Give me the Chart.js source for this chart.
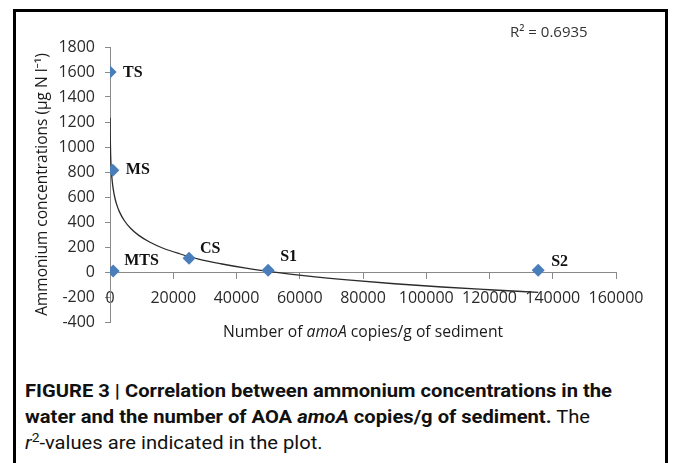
<!DOCTYPE html>
<html>
<head>
<meta charset="utf-8">
<script src="https://cdn.jsdelivr.net/npm/chart.js@4.4.1/dist/chart.umd.min.js"></script>
<style>
  html, body { margin: 0; padding: 0; background: #fff; }
  body { width: 675px; height: 463px; position: relative; overflow: hidden; }
  #frame { position: absolute; left: 13px; top: 9px; width: 649px; height: 500px; border: 3px solid #000; box-sizing: content-box; }
  #wrap { position: absolute; left: 0; top: 0; width: 675px; height: 350px; }
  #caption { position: absolute; left: 25px; top: 378px; white-space: nowrap; transform-origin: 0 0;
    font-family: "Liberation Sans Narrow", "Roboto", "Liberation Sans", sans-serif; font-size: 19px; line-height: 26px; color: #111; }
  #caption b { font-weight: bold; }
</style>
</head>
<body>
<div id="frame"></div>
<div id="wrap"><canvas id="c"></canvas></div>
<div id="caption">
  <div id="cap1"><b>FIGURE 3 | Correlation between ammonium concentrations in the</b></div>
  <div><b>water and the number of AOA <i>amoA</i> copies/g of sediment.</b> The</div>
  <div><i>r</i><sup style="font-size:13px;line-height:0">2</sup>-values are indicated in the plot.</div>
</div>
<script>
// ---- data ----
const sites = ['TS', 'MS', 'MTS', 'CS', 'S1', 'S2'];
const amoACopies = [35, 900, 1000, 25000, 50000, 135400];
const ammonium = [1600, 815, 8, 110, 15, 15];

// logarithmic trendline
const trendX = [35, 60, 100, 200, 400, 700, 1000, 1500, 2000, 3000, 4500, 6500, 9000, 12500, 17000, 22000, 28000, 35000, 43000, 52000, 62000, 75000, 90000, 105000, 120000, 135400];
const trendY = [1233, 1142, 1056, 939, 821, 727, 667, 598, 549, 481, 412, 350, 295, 240, 188, 146, 103, 66, 31, -1, -31, -63, -94, -120, -142, -163];

const rSquaredText = 'R² = 0.6935';
const xTicks = { min: 0, max: 160000, step: 20000 };
const yTicks = { min: -400, max: 1800, step: 200 };

// label placement (style)
const labelOffsets = [[13, 1], [13, 0], [11, -10], [11, -9], [12, -13], [13, -8]];

const axisColor = '#8a8a8a';
const tickFont = { family: '"Open Sans", "Noto Sans", sans-serif', size: 16 };

const scatterData = amoACopies.map((x, i) => ({ x: x, y: ammonium[i] }));
const trendData = trendX.map((x, i) => ({ x: x, y: trendY[i] }));

const extras = {
  id: 'extras',
  afterDraw(chart) {
    const ctx = chart.ctx;
    const xs = chart.scales.x, ys = chart.scales.y;
    ctx.save();
    // point labels
    ctx.font = 'bold 16px "Liberation Serif", "DejaVu Serif", serif';
    ctx.fillStyle = '#111';
    ctx.textBaseline = 'middle';
    ctx.textAlign = 'left';
    sites.forEach((s, i) => {
      const px = xs.getPixelForValue(amoACopies[i]);
      const py = ys.getPixelForValue(ammonium[i]);
      ctx.fillText(s, px + labelOffsets[i][0], py + labelOffsets[i][1]);
    });
    // R² text
    ctx.font = '15px "Open Sans", "Noto Sans", sans-serif';
    ctx.fillStyle = '#333';
    ctx.fillText(rSquaredText, 510, 33);
    // x axis title with italic part
    const parts = [['Number of ', 'normal'], ['amoA', 'italic'], [' copies/g of sediment', 'normal']];
    const fontFor = st => st + ' 15.7px "Open Sans", "Noto Sans", sans-serif';
    let total = 0;
    parts.forEach(p => { ctx.font = fontFor(p[1]); total += ctx.measureText(p[0]).width; });
    const cx = (chart.chartArea.left + chart.chartArea.right) / 2;
    let x = cx - total / 2;
    ctx.fillStyle = '#1a1a1a';
    parts.forEach(p => { ctx.font = fontFor(p[1]); ctx.fillText(p[0], x, 333); x += ctx.measureText(p[0]).width; });
    ctx.restore();
  }
};

const plainNumber = v => String(v);

new Chart(document.getElementById('c'), {
  type: 'scatter',
  data: {
    datasets: [
      {
        type: 'scatter', label: 'sites', data: scatterData, order: 1,
        pointStyle: 'rectRot', pointRadius: 6.5, pointHoverRadius: 6.5,
        backgroundColor: '#4a7ebb', borderColor: '#4a7ebb', borderWidth: 0
      },
      {
        type: 'line', label: 'trend', data: trendData, order: 2,
        borderColor: '#2b2b2b', borderWidth: 1.3, pointRadius: 0, fill: false,
        cubicInterpolationMode: 'monotone', showLine: true
      }
    ]
  },
  options: {
    responsive: true, maintainAspectRatio: false, animation: false,
    layout: { padding: { left: 0, top: 47, right: 59, bottom: 28 } },
    plugins: { legend: { display: false }, tooltip: { enabled: false } },
    scales: {
      x: {
        type: 'linear', position: { y: 0 }, min: xTicks.min, max: xTicks.max,
        ticks: { stepSize: xTicks.step, font: tickFont, color: '#2a2a2a', padding: 11, maxRotation: 0, autoSkip: false, callback: plainNumber },
        grid: { drawOnChartArea: false, drawTicks: true, tickLength: 6, color: axisColor },
        border: { display: true, color: axisColor, width: 1 }
      },
      y: {
        type: 'linear', position: 'left', min: yTicks.min, max: yTicks.max,
        ticks: { stepSize: yTicks.step, font: tickFont, color: '#2a2a2a', padding: 10, callback: plainNumber },
        grid: { drawOnChartArea: false, drawTicks: true, tickLength: 5, color: axisColor },
        border: { display: true, color: axisColor, width: 1 },
        title: { display: true, text: 'Ammonium concentrations (µg N l⁻¹)', color: '#1a1a1a',
          font: { family: '"Open Sans", "Noto Sans", sans-serif', size: 15.5 }, padding: { top: 33, bottom: 0 } },
        afterFit(scale) { scale.width = 110; }
      }
    }
  },
  plugins: [extras]
});

// fit caption width to reference
(function () {
  const cap = document.getElementById('caption');
  const l1 = document.getElementById('cap1').firstChild;
  const w = l1.getBoundingClientRect().width;
  const target = 587;
  if (w > 0) cap.style.transform = 'scaleX(' + (target / w).toFixed(4) + ')';
})();
</script>
</body>
</html>
